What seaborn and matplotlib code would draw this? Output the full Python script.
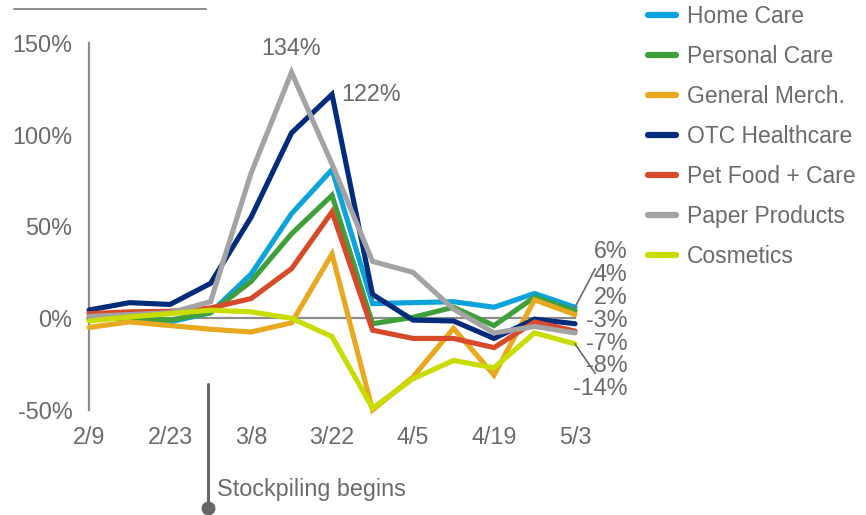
import matplotlib
matplotlib.use("Agg")
import matplotlib.pyplot as plt
import matplotlib.transforms as mtransforms
from matplotlib.lines import Line2D
import seaborn as sns
import pandas as pd

# Weekly year-over-year sales change by category (%)
weeks = ['2/9', '2/16', '2/23', '3/1', '3/8', '3/15', '3/22',
         '3/29', '4/5', '4/12', '4/19', '4/26', '5/3']
categories = ['Home Care', 'Personal Care', 'General Merch.', 'OTC Healthcare',
              'Pet Food + Care', 'Paper Products', 'Cosmetics']

home_care = [0, 0, -2, 3, 24, 57, 81, 8, 8.5, 9, 6, 13.5, 6]
personal_care = [0, 0, -1, 3, 20, 46, 67, -3, 0.5, 6, -4, 11.5, 4]
general_merch = [-5, -2, -4, -6, -7.5, -2.5, 35, -50, -32, -5.5, -31, 10, 2]
otc_healthcare = [4.5, 8.5, 7.5, 19, 55, 101, 122, 13, -1, -1.5, -11, -0.5, -3]
pet_food = [2.5, 3.5, 3.8, 5.6, 10.7, 27, 58, -6.5, -11, -11, -16, -2, -7]
paper_products = [1, 2, 3, 9, 79, 134, 84, 31, 25, 5, -8, -4.5, -8]
cosmetics = [-1.5, 0.7, 2.5, 4.4, 3.5, 0, -10, -49, -33, -23, -27, -8, -14]

series = [home_care, personal_care, general_merch, otc_healthcare,
          pet_food, paper_products, cosmetics]
colors = ['#0AA3DC', '#3F9F3A', '#E8A920', '#012B7B',
          '#D64A2A', '#A3A3A3', '#C9DC00']

y_ticks = [-50, 0, 50, 100, 150]
x_tick_weeks = ['2/9', '2/23', '3/8', '3/22', '4/5', '4/19', '5/3']
stockpiling_week = '3/1'

rows = []
for name, vals in zip(categories, series):
    for i, v in enumerate(vals):
        rows.append({'week': i, 'category': name, 'change': v})
df = pd.DataFrame(rows)

sns.set_theme(style='white')
plt.rcParams['font.family'] = ['Liberation Sans', 'DejaVu Sans']
TXT = '#6A6A6A'
AX = '#8C8C8C'
FS = 16.8

fig = plt.figure(figsize=(8.66, 5.15), dpi=100)
ax = fig.add_axes([0.1028, 0.2039, 0.664 - 0.1028, 0.9165 - 0.2039])

sns.lineplot(data=df, x='week', y='change', hue='category',
             hue_order=categories, palette=colors, linewidth=3.7,
             legend=False, ax=ax, clip_on=False)
for ln in ax.get_lines():
    ln.set_solid_joinstyle('miter')

ax.set_xlim(0, 12)
ax.set_ylim(-50, 150)
ax.set_xlabel('')
ax.set_ylabel('')

# axes: vertical spine on the left, horizontal zero line with ticks
for s in ['top', 'right']:
    ax.spines[s].set_visible(False)
ax.spines['left'].set_color(AX)
ax.spines['left'].set_linewidth(1.6)
ax.spines['bottom'].set_position(('data', 0))
ax.spines['bottom'].set_color(AX)
ax.spines['bottom'].set_linewidth(1.6)
ax.set_zorder(1)
for ln in ax.get_lines():
    ln.set_zorder(3)

tick_pos = [weeks.index(w) for w in x_tick_weeks]
ax.set_xticks(tick_pos)
ax.tick_params(axis='x', direction='out', length=7, width=1.4, color=AX,
               labelbottom=False)
ax.set_yticks(y_ticks)
ax.set_yticklabels([f'{v}%' for v in y_ticks])
ax.tick_params(axis='y', length=0, pad=12, labelsize=FS, labelcolor=TXT)

blend = mtransforms.blended_transform_factory(ax.transData, ax.transAxes)
for p, lab in zip(tick_pos, x_tick_weeks):
    ax.text(p, -0.074, lab, transform=blend, ha='center', va='center',
            fontsize=FS, color=TXT)

# peak callouts
pk_paper = paper_products.index(max(paper_products))
ax.text(pk_paper, max(paper_products) + 13, f'{max(paper_products):.0f}%',
        ha='center', va='center', fontsize=FS, color=TXT)
pk_otc = otc_healthcare.index(max(otc_healthcare))
ax.text(pk_otc + 0.22, max(otc_healthcare), f'{max(otc_healthcare):.0f}%',
        ha='left', va='center', fontsize=FS, color=TXT)

# end-of-series labels stacked to the right of the last week
last = len(weeks) - 1
ends = [s[-1] for s in series]
order = sorted(range(len(series)), key=lambda k: -ends[k])
label_x = last + 1.3
for rank, k in enumerate(order):
    ax.text(label_x, 36.5 - 12.5 * rank, f'{ends[k]:.0f}%', ha='right',
            va='center', fontsize=FS, color=TXT, clip_on=False)
ax.annotate('', xy=(last, ends[order[0]]), xytext=(last + 0.5, 27),
            arrowprops=dict(arrowstyle='-', color=TXT, lw=1.2,
                            shrinkA=0, shrinkB=0), annotation_clip=False)
ax.annotate('', xy=(last, ends[order[-1]]), xytext=(last + 0.5, -30),
            arrowprops=dict(arrowstyle='-', color=TXT, lw=1.2,
                            shrinkA=0, shrinkB=0), annotation_clip=False)

# stockpiling marker
sx = weeks.index(stockpiling_week) - 0.05
ax.plot([sx, sx], [-36, -103.5], color='#666666', lw=2.2, clip_on=False,
        zorder=2)
ax.plot([sx], [-103.5], marker='o', ms=9, color='#666666', clip_on=False,
        zorder=2)
ax.text(sx + 0.22, -93.5, 'Stockpiling begins', ha='left', va='center',
        fontsize=FS, color=TXT, clip_on=False)

# legend
handles = [Line2D([0], [0], color=c, lw=4.5, solid_capstyle='round')
           for c in colors]
fig.legend(handles, categories, loc='upper left',
           bbox_to_anchor=(0.738, 1.008), frameon=False, fontsize=16.5,
           labelcolor=TXT, handlelength=1.2, handletextpad=0.5,
           labelspacing=0.74, borderaxespad=0)

# decorative rule at top-left
fig.add_artist(Line2D([14 / 866, 206 / 866], [1 - 9 / 515, 1 - 9 / 515],
                      color='#8C8C8C', lw=1.4))

fig.savefig('out.png', dpi=100)
